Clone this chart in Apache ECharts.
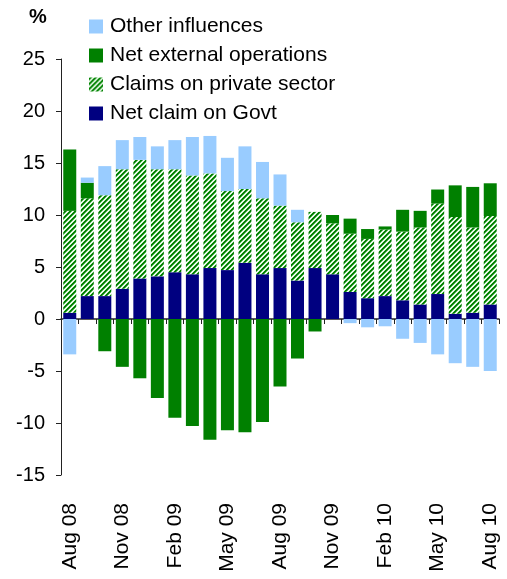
<!DOCTYPE html>
<html>
<head>
<meta charset="utf-8">
<script src="https://cdn.jsdelivr.net/npm/echarts@6/dist/echarts.min.js"></script>
<style>
  html, body { margin: 0; padding: 0; background: #fff; }
  #chart { width: 507px; height: 579px; }
</style>
</head>
<body>
<div id="chart"></div>
<script>
var months = ['Aug 08','Sep 08','Oct 08','Nov 08','Dec 08','Jan 09','Feb 09','Mar 09','Apr 09',
    'May 09','Jun 09','Jul 09','Aug 09','Sep 09','Oct 09','Nov 09','Dec 09','Jan 10','Feb 10',
    'Mar 10','Apr 10','May 10','Jun 10','Jul 10','Aug 10'];

var govt     = [0.6, 2.2, 2.2, 2.9, 3.9, 4.1, 4.5, 4.3, 4.9, 4.7, 5.4, 4.3, 4.9, 3.7, 4.9, 4.3, 2.6, 2.0, 2.2, 1.8, 1.4, 2.4, 0.5, 0.6, 1.4];
var claims   = [9.8, 9.4, 9.7, 11.5, 11.4, 10.3, 9.9, 9.5, 9.1, 7.6, 7.1, 7.3, 6.0, 5.6, 5.4, 4.9, 5.6, 5.7, 6.4, 6.6, 7.4, 8.7, 9.3, 8.2, 8.5];
var external = [5.9, 1.5, -3.1, -4.6, -5.7, -7.6, -9.5, -10.3, -11.6, -10.7, -10.9, -9.9, -6.5, -3.8, -1.2, 0.8, 1.45, 0.95, 0.3, 2.1, 1.6, 1.35, 3.05, 3.9, 3.15];
var other    = [-3.4, 0.5, 2.8, 2.8, 2.2, 2.2, 2.8, 3.7, 3.6, 3.2, 4.1, 3.5, 3.0, 1.2, 0, 0, -0.4, -0.8, -0.7, -1.9, -2.3, -3.4, -4.25, -4.6, -5.0];

var font = 'Liberation Sans, Arial, sans-serif';

// diagonal hatch for the private sector claims
function makeHatch()
{
    var c = document.createElement('canvas');
    c.width = 5;
    c.height = 5;
    var ctx = c.getContext('2d');
    var cols = ['#008000', '#008000', '#5cb85c', '#ffffff', '#c8ecc8'];
    for (var x = 0; x < 5; x++) {
        for (var y = 0; y < 5; y++) {
            ctx.fillStyle = cols[(x + y) % 5];
            ctx.fillRect(x, y, 1, 1);
        }
    }
    return c;
}
var hatch = { image: makeHatch(), repeat: 'repeat' };

var chart = echarts.init(document.getElementById('chart'));

var option = {
    animation: false,
    textStyle: { fontFamily: font },
    title: {
        text: '%',
        left: 24,
        top: 2,
        textStyle: { fontFamily: font, fontSize: 20, fontWeight: 'bold', color: '#000' }
    },
    legend: {
        orient: 'vertical',
        left: 84,
        top: 11,
        icon: 'rect',
        itemWidth: 14,
        itemHeight: 14,
        itemGap: 8,
        data: ['Other influences', 'Net external operations', 'Claims on private sector', 'Net claim on Govt'],
        textStyle: { fontFamily: font, fontSize: 21, color: '#000', padding: [0, 0, 0, 2] }
    },
    grid: { left: 61, right: 8, top: 59, bottom: 104 },
    xAxis: [
        {
            type: 'category',
            data: months,
            axisLine: { onZero: true, lineStyle: { color: '#222', width: 1.5 } },
            axisTick: { show: true, interval: 0, length: 5, inside: false, lineStyle: { color: '#222' } },
            axisLabel: { show: false }
        },
        {
            type: 'category',
            data: months,
            position: 'bottom',
            axisLine: { show: false, onZero: false },
            axisTick: { show: false },
            axisLabel: {
                interval: 2,
                rotate: 90,
                margin: 28,
                fontFamily: font,
                fontSize: 21,
                color: '#000'
            }
        }
    ],
    yAxis: {
        type: 'value',
        min: -15,
        max: 25,
        interval: 5,
        splitLine: { show: false },
        axisLine: { show: true, lineStyle: { color: '#222' } },
        axisTick: { show: true, length: 5, lineStyle: { color: '#222' } },
        axisLabel: { fontFamily: font, fontSize: 20, color: '#000', margin: 16 }
    },
    series: [
        {
            name: 'Net claim on Govt',
            type: 'bar',
            stack: 'all',
            barWidth: 13,
            data: govt,
            itemStyle: { color: '#000080' }
        },
        {
            name: 'Claims on private sector',
            type: 'bar',
            stack: 'all',
            barWidth: 13,
            data: claims,
            itemStyle: { color: hatch }
        },
        {
            name: 'Net external operations',
            type: 'bar',
            stack: 'all',
            barWidth: 13,
            data: external,
            itemStyle: { color: '#008000' }
        },
        {
            name: 'Other influences',
            type: 'bar',
            stack: 'all',
            barWidth: 13,
            data: other,
            itemStyle: { color: '#99ccff' }
        }
    ]
};

chart.setOption(option);
</script>
</body>
</html>
